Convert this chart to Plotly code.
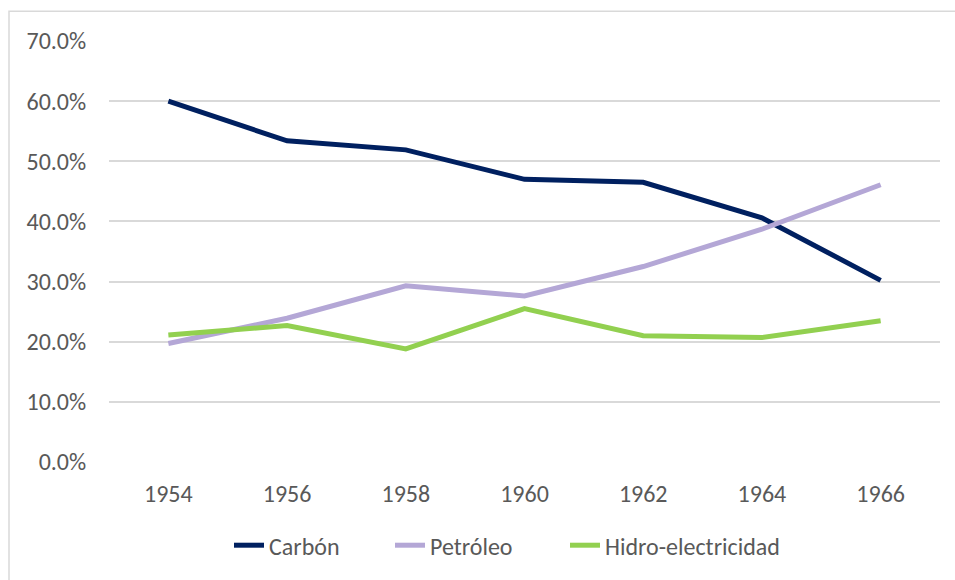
import plotly.graph_objects as go

years = ["1954", "1956", "1958", "1960", "1962", "1964", "1966"]
carbon = [0.600, 0.534, 0.519, 0.470, 0.465, 0.406, 0.302]
petroleo = [0.197, 0.239, 0.293, 0.276, 0.325, 0.387, 0.461]
hidro = [0.211, 0.227, 0.188, 0.255, 0.210, 0.207, 0.235]

series = [
    ("Carbón", carbon, "#002060"),
    ("Petróleo", petroleo, "#B4A7D6"),
    ("Hidro-electricidad", hidro, "#92D050"),
]

FONT = "Calibri, Carlito, Lato, sans-serif"
TXT = "#595959"
FS = 24

W, H = 955, 580
L, R, T, B = 109, 15, 41, 116
pw = W - L - R
ph = H - T - B

legend_names = ["legend", "legend2", "legend3"]
legend_px = [229, 390, 565]

fig = go.Figure()
for (name, vals, col), lg in zip(series, legend_names):
    fig.add_trace(go.Scatter(
        x=years, y=vals, name=name, mode="lines",
        line=dict(color=col, width=5), legend=lg,
    ))

legend_layout = {}
for lg, px in zip(legend_names, legend_px):
    legend_layout[lg] = dict(
        orientation="h", x=(px - L) / pw, xanchor="left",
        y=(H - B - 548) / ph, yanchor="middle",
        font=dict(family=FONT, size=FS, color=TXT),
        bgcolor="rgba(0,0,0,0)",
    )

fig.update_layout(
    width=W, height=H,
    margin=dict(l=L, r=R, t=T, b=B, pad=0),
    paper_bgcolor="white", plot_bgcolor="white",
    font=dict(family=FONT, size=FS, color=TXT),
    showlegend=True,
    xaxis=dict(
        type="category", range=[-0.5, len(years) - 0.5],
        showgrid=False, showline=False, zeroline=False,
        ticks="outside", ticklen=10, tickcolor="rgba(0,0,0,0)",
        tickfont=dict(family=FONT, size=FS, color=TXT),
    ),
    yaxis=dict(
        range=[0, 0.7], dtick=0.1, tick0=0, tickformat=".1%",
        showgrid=True, gridcolor="#D9D9D9", gridwidth=1.5,
        zeroline=False, showline=False,
        ticks="outside", ticklen=17, tickcolor="rgba(0,0,0,0)",
        tickfont=dict(family=FONT, size=FS, color=TXT),
    ),
    shapes=[dict(
        type="rect", xref="paper", yref="paper",
        x0=(9 - L) / pw, x1=(W + 20 - L) / pw,
        y0=(H - B - (H + 20)) / ph, y1=(H - B - 11) / ph,
        line=dict(color="#D9D9D9", width=1.5), fillcolor="rgba(0,0,0,0)",
        layer="below",
    )],
    **legend_layout,
)

fig.write_html("out.html", config={"displayModeBar": False},
               post_script="document.body.style.margin='0';")
